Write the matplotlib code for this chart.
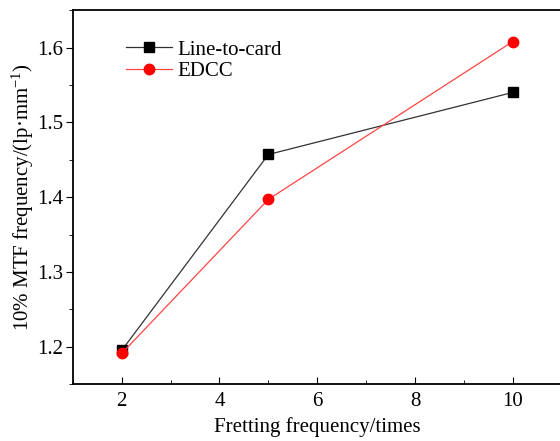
import matplotlib
matplotlib.use("Agg")
import matplotlib.pyplot as plt
from matplotlib.ticker import MultipleLocator

# Datos
fretting = [2, 5, 10]
line_to_card = [1.195, 1.457, 1.540]
edcc = [1.191, 1.397, 1.608]

plt.rcParams['font.family'] = ['Liberation Serif', 'DejaVu Serif']
plt.rcParams['mathtext.fontset'] = 'custom'
plt.rcParams['mathtext.rm'] = 'Liberation Serif'

fig = plt.figure(figsize=(5.6, 4.41), dpi=100)
ax = fig.add_axes([0.130, 0.129, 0.873, 0.848])

ax.plot(fretting, line_to_card, color='#333333', lw=0.9, marker='s', ms=6.5,
        mfc='black', mec='black', label='Line-to-card')
ax.plot(fretting, edcc, color='#ff4444', lw=0.9, marker='o', ms=7.5,
        mfc='red', mec='red', label='EDCC')

ax.set_xlim(1, 11)
ax.set_ylim(1.15, 1.65)
ax.xaxis.set_major_locator(MultipleLocator(2))
ax.xaxis.set_minor_locator(MultipleLocator(1))
ax.yaxis.set_major_locator(MultipleLocator(0.1))
ax.yaxis.set_minor_locator(MultipleLocator(0.05))
ax.tick_params(axis='x', which='both', direction='in', labelsize=15, pad=6)
ax.tick_params(axis='x', which='major', length=5)
ax.tick_params(axis='x', which='minor', length=3)
ax.tick_params(axis='y', which='both', direction='out', labelsize=15, pad=2)
ax.tick_params(axis='y', which='major', length=5)
ax.tick_params(axis='y', which='minor', length=3)
ax.set_yticks([1.2, 1.3, 1.4, 1.5, 1.6])
ax.set_yticklabels(['1.2', '1.3', '1.4', '1.5', '1.6'])
for s in ax.spines.values():
    s.set_linewidth(1.3)

ax.set_xlabel('Fretting frequency/times', fontsize=15)
ax.set_ylabel('10% MTF frequency/(lp\u00b7mm$\\mathregular{^{-1}}$)', fontsize=15,
              labelpad=1)

ax.legend(loc='upper left', bbox_to_anchor=(0.07, 0.97), frameon=False,
          fontsize=15, handlelength=2.2, handletextpad=0.3, labelspacing=0.1)

fig.savefig('out.png', dpi=100)
